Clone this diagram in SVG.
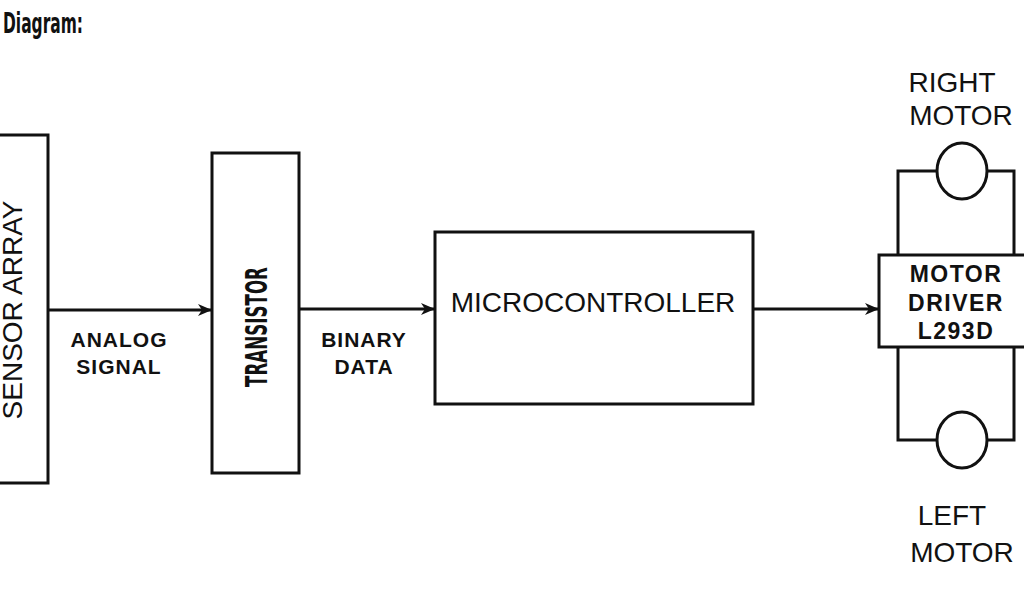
<svg xmlns="http://www.w3.org/2000/svg" width="1024" height="600" viewBox="0 0 1024 600">
  <style>
    .box { fill: #ffffff; stroke: #111111; stroke-width: 3; }
    .wire { fill: none; stroke: #111111; stroke-width: 3; }
    .conn { fill: none; stroke: #111111; stroke-width: 3; }
    .reg { font-family: "Liberation Sans", Arial, sans-serif; font-size: 28px; fill: #111111; }
    .bold { font-family: "Liberation Sans", Arial, sans-serif; font-weight: bold; fill: #111111; }
    .cond { font-family: "DejaVu Sans Condensed", "DejaVu Sans", sans-serif; font-weight: bold; fill: #111111; }
  </style>
  <defs>
    <marker id="arrow" markerUnits="userSpaceOnUse" markerWidth="16" markerHeight="14" refX="15" refY="7" orient="auto">
      <path d="M1,1 L15,7 L1,13 L5,7 z" fill="#111111"/>
    </marker>
  </defs>
  <rect width="1024" height="600" fill="#ffffff"/>

  <text class="cond" x="3" y="33" font-size="29" textLength="80" lengthAdjust="spacingAndGlyphs">Diagram:</text>

  <g id="sensor-array">
    <rect class="box" x="-10" y="135" width="58" height="348"/>
    <text class="reg" transform="translate(22,310) rotate(-90)" text-anchor="middle">SENSOR ARRAY</text>
  </g>

  <g id="transistor">
    <rect class="box" x="212" y="153" width="87" height="320"/>
    <text class="cond" font-size="30" transform="translate(267,327) rotate(-90)" text-anchor="middle" textLength="120" lengthAdjust="spacingAndGlyphs">TRANSISTOR</text>
  </g>

  <g id="microcontroller">
    <rect class="box" x="435" y="232" width="318" height="172"/>
    <text class="reg" x="593" y="312" text-anchor="middle">MICROCONTROLLER</text>
  </g>

  <g id="motor-driver">
    <rect class="box" x="879" y="255" width="148" height="92"/>
    <text class="bold" font-size="23" letter-spacing="1.5" x="956" y="282" text-anchor="middle">MOTOR</text>
    <text class="bold" font-size="23" letter-spacing="1.5" x="956" y="311" text-anchor="middle">DRIVER</text>
    <text class="bold" font-size="23" letter-spacing="1.5" x="956" y="339" text-anchor="middle">L293D</text>
  </g>

  <g id="right-motor">
    <ellipse class="wire" cx="962" cy="171" rx="25" ry="28"/>
    <text class="reg" x="952" y="92" text-anchor="middle">RIGHT</text>
    <text class="reg" x="961" y="125" text-anchor="middle">MOTOR</text>
  </g>

  <g id="left-motor">
    <ellipse class="wire" cx="962" cy="440" rx="25" ry="28"/>
    <text class="reg" x="952" y="525" text-anchor="middle">LEFT</text>
    <text class="reg" x="962" y="562" text-anchor="middle">MOTOR</text>
  </g>

  <g id="connectors">
    <line class="conn" x1="48" y1="310" x2="212" y2="310" marker-end="url(#arrow)"/>
    <line class="conn" x1="299" y1="309" x2="435" y2="309" marker-end="url(#arrow)"/>
    <line class="conn" x1="753" y1="309" x2="879" y2="309" marker-end="url(#arrow)"/>
    <path class="wire" d="M898,255 V171 H937 M987,171 H1014 V255"/>
    <path class="wire" d="M898,347 V440 H937 M987,440 H1014 V347"/>
  </g>

  <g id="labels">
    <text class="bold" font-size="21" letter-spacing="1" x="119" y="347" text-anchor="middle">ANALOG</text>
    <text class="bold" font-size="21" letter-spacing="1" x="119" y="374" text-anchor="middle">SIGNAL</text>
    <text class="bold" font-size="21" letter-spacing="1" x="364" y="347" text-anchor="middle">BINARY</text>
    <text class="bold" font-size="21" letter-spacing="1" x="364" y="374" text-anchor="middle">DATA</text>
  </g>
</svg>
